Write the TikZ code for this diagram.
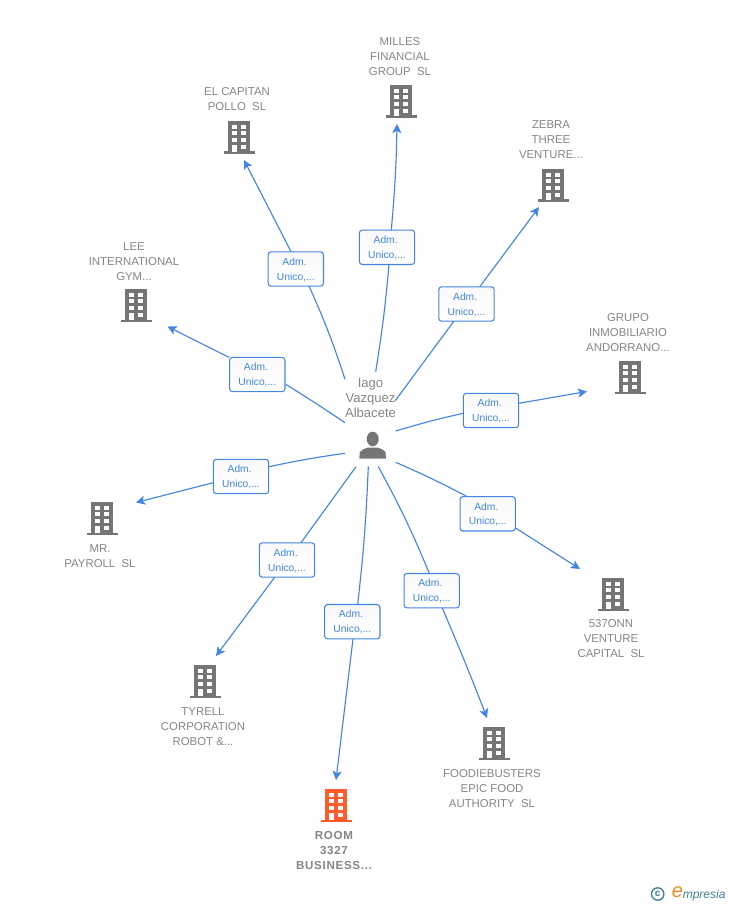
\documentclass[tikz,border=0pt]{standalone}
\usepackage{fontspec}
\setmainfont{Liberation Sans}
\usetikzlibrary{backgrounds,arrows.meta}
\definecolor{linkblue}{HTML}{4285E2}
\definecolor{boxtop}{HTML}{F9F9F9}
\definecolor{labelgray}{HTML}{858585}
\definecolor{icongray}{HTML}{757575}
\definecolor{roomorange}{HTML}{FF5A2B}
\definecolor{logoteal}{HTML}{3F7F96}
\definecolor{logoorange}{HTML}{F08A1E}
\newcommand{\roletext}{Adm.\hspace*{2pt}\\Unico,...}
\tikzset{
  x=0.75pt,y=-0.75pt,
  link/.style={draw=linkblue,line width=0.85pt},
  linkarrow/.style={link,-{Stealth[length=6.8pt,width=6.8pt,inset=1.6pt]}},
  rolebox/.style={draw=linkblue,top color=boxtop,bottom color=white,rounded corners=2.2pt,line width=0.8pt,minimum width=41.5pt,minimum height=25.8pt,inner sep=0pt,align=center,text=linkblue,text depth=0pt,font=\fontsize{7.7}{11.2}\selectfont},
  orgname/.style={align=center,text=labelgray,inner sep=0pt,font=\fontsize{8.55}{11.25}\selectfont},
  hubname/.style={align=center,text=labelgray,inner sep=0pt,font=\fontsize{9.8}{11.25}\selectfont},
  pics/building/.style={code={
    \fill[#1] (-11,-17) rectangle (11,14);
    \fill[#1] (-15.5,13.5) rectangle (15.5,16.3);
    \foreach \r in {-13.3,-6.7,0}{
      \fill[white] (-7,\r) rectangle (-2,{\r+4});
      \fill[white] (2.3,\r) rectangle (7.3,{\r+4});
    }
    \fill[white] (2.3,6.7) rectangle (7.3,10.7);
    \fill[white] (-7,6.7) rectangle (-2,14);
  }},
}
\begin{document}
\begin{tikzpicture}
\useasboundingbox (0,0) rectangle (728,905);
% organisations
\coordinate (b1) at (136,306); \pic at (b1) {building=icongray};
\coordinate (b2) at (239,138); \pic at (b2) {building=icongray};
\coordinate (b3) at (401,102); \pic at (b3) {building=icongray};
\coordinate (b4) at (553,186); \pic at (b4) {building=icongray};
\coordinate (b5) at (630,378); \pic at (b5) {building=icongray};
\coordinate (b6) at (613,595); \pic at (b6) {building=icongray};
\coordinate (b7) at (494,744); \pic at (b7) {building=icongray};
\coordinate (b8) at (336,806); \pic at (b8) {building=roomorange};
\coordinate (b9) at (205,682); \pic at (b9) {building=icongray};
\coordinate (b10) at (102,519); \pic at (b10) {building=icongray};
\node[orgname] (n1) at (134,261.5) {LEE\\INTERNATIONAL\\GYM...};
\node[orgname] (n2) at (237,99.5) {EL CAPITAN\\POLLO\ \ SL};
\node[orgname] (n3) at (400,56.5) {MILLES\\FINANCIAL\\GROUP\ \ SL};
\node[orgname] (n4) at (551,139.5) {ZEBRA\\THREE\\VENTURE...};
\node[orgname] (n5) at (628,332.5) {GRUPO\\INMOBILIARIO\\ANDORRANO...};
\node[orgname] (n6) at (611,638.5) {537ONN\\VENTURE\\CAPITAL\ \ SL};
\node[orgname] (n7) at (492,788.5) {FOODIEBUSTERS\\EPIC FOOD\\AUTHORITY\ \ SL};
\node[orgname,font=\fontsize{8.7}{11.25}\bfseries\addfontfeature{LetterSpace=6}\selectfont] (n8) at (334,850.5) {ROOM\\3327\\BUSINESS...};
\node[orgname] (n9) at (203,726.5) {TYRELL\\CORPORATION\\ROBOT \&...};
\node[orgname] (n10) at (100,556.5) {MR.\\PAYROLL\ \ SL};
% person
\node[hubname] (hub) at (370.5,398) {Iago\\Vazquez\\Albacete};
\coordinate (person) at (372.5,446);
\fill[icongray] (372.7,439) ellipse (6 and 7.3);
\fill[icongray] (359.3,458.5) -- (359.8,452) to[bend left=15] (368,447.5) -- (377.5,447.5) to[bend left=15] (385.5,452) -- (386,458.5) -- cycle;
% role boxes
\node[rolebox] (r1) at (257.3,374.5) {\roletext};
\node[rolebox] (r2) at (295.8,269) {\roletext};
\node[rolebox] (r3) at (387,247.3) {\roletext};
\node[rolebox] (r4) at (466.5,304) {\roletext};
\node[rolebox] (r5) at (491,410.5) {\roletext};
\node[rolebox] (r6) at (487.7,513.8) {\roletext};
\node[rolebox] (r7) at (431.7,590.7) {\roletext};
\node[rolebox] (r8) at (352.3,621.7) {\roletext};
\node[rolebox] (r9) at (287,560) {\roletext};
\node[rolebox] (r10) at (241,476.5) {\roletext};
% connector ends: near the person, at the box edges, and at the arrow tips
\coordinate (s1) at (345,422.7); \coordinate (i1) at (285.7,384.3); \coordinate (o1) at (229,357.3); \coordinate (e1) at (167.5,326.5);
\coordinate (s2) at (345,379.3); \coordinate (i2) at (309,286); \coordinate (o2) at (291,251.7); \coordinate (e2) at (244,160);
\coordinate (s3) at (375.7,371.7); \coordinate (i3) at (389,264.3); \coordinate (o3) at (391.3,230); \coordinate (e3) at (397,124);
\coordinate (s4) at (395,401); \coordinate (i4) at (454,321); \coordinate (o4) at (479.6,287); \coordinate (e4) at (539,207);
\coordinate (s5) at (395.7,431); \coordinate (i5) at (463.3,413.3); \coordinate (o5) at (518.7,403.3); \coordinate (e5) at (587,391.5);
\coordinate (s6) at (395.7,462.3); \coordinate (i6) at (467.3,496.7); \coordinate (o6) at (516,528.3); \coordinate (e6) at (580,569);
\coordinate (s7) at (378.3,466.7); \coordinate (i7) at (429.3,573.3); \coordinate (o7) at (442.3,608); \coordinate (e7) at (487,718);
\coordinate (s8) at (368.3,466.7); \coordinate (i8) at (357.7,604.3); \coordinate (o8) at (353,639); \coordinate (e8) at (336,780);
\coordinate (s9) at (356,466.7); \coordinate (i9) at (301,542.7); \coordinate (o9) at (274.7,577.3); \coordinate (e9) at (216,656);
\coordinate (s10) at (345,453.3); \coordinate (i10) at (269,466.7); \coordinate (o10) at (213.3,482.7); \coordinate (e10) at (136,502.5);
\begin{scope}[on background layer]
\draw[link] (s1) to[bend right=1] (i1); \draw[linkarrow] (o1) to (e1);
\draw[link] (s2) to[bend right=3] (i2); \draw[linkarrow] (o2) to (e2);
\draw[link] (s3) to[bend right=2] (i3); \draw[linkarrow] (o3) to[bend right=2] (e3);
\draw[link] (s4) to (i4); \draw[linkarrow] (o4) to (e4);
\draw[link] (s5) to[bend left=2] (i5); \draw[linkarrow] (o5) to (e5);
\draw[link] (s6) to[bend left=2] (i6); \draw[linkarrow] (o6) to (e6);
\draw[link] (s7) to[bend left=3] (i7); \draw[linkarrow] (o7) to[bend left=1] (e7);
\draw[link] (s8) to[bend left=2] (i8); \draw[linkarrow] (o8) to (e8);
\draw[link] (s9) to (i9); \draw[linkarrow] (o9) to (e9);
\draw[link] (s10) to[bend right=2] (i10); \draw[linkarrow] (o10) to (e10);
\end{scope}
% logo
\node[circle,draw=logoteal,line width=1pt,inner sep=0pt,minimum size=9.3pt,text=logoteal,font=\fontsize{7.5}{8}\bfseries\selectfont] (copyr) at (657.7,894) {c};
\node[text=logoorange,inner sep=0pt,font=\fontsize{15}{15}\itshape\selectfont] (logoe) at (677.5,892.5) {e};
\node[text=logoteal,inner sep=0pt,anchor=west,font=\fontsize{9}{10}\itshape\selectfont] (logot) at (682.5,895) {mpresia};
\end{tikzpicture}
\end{document}
